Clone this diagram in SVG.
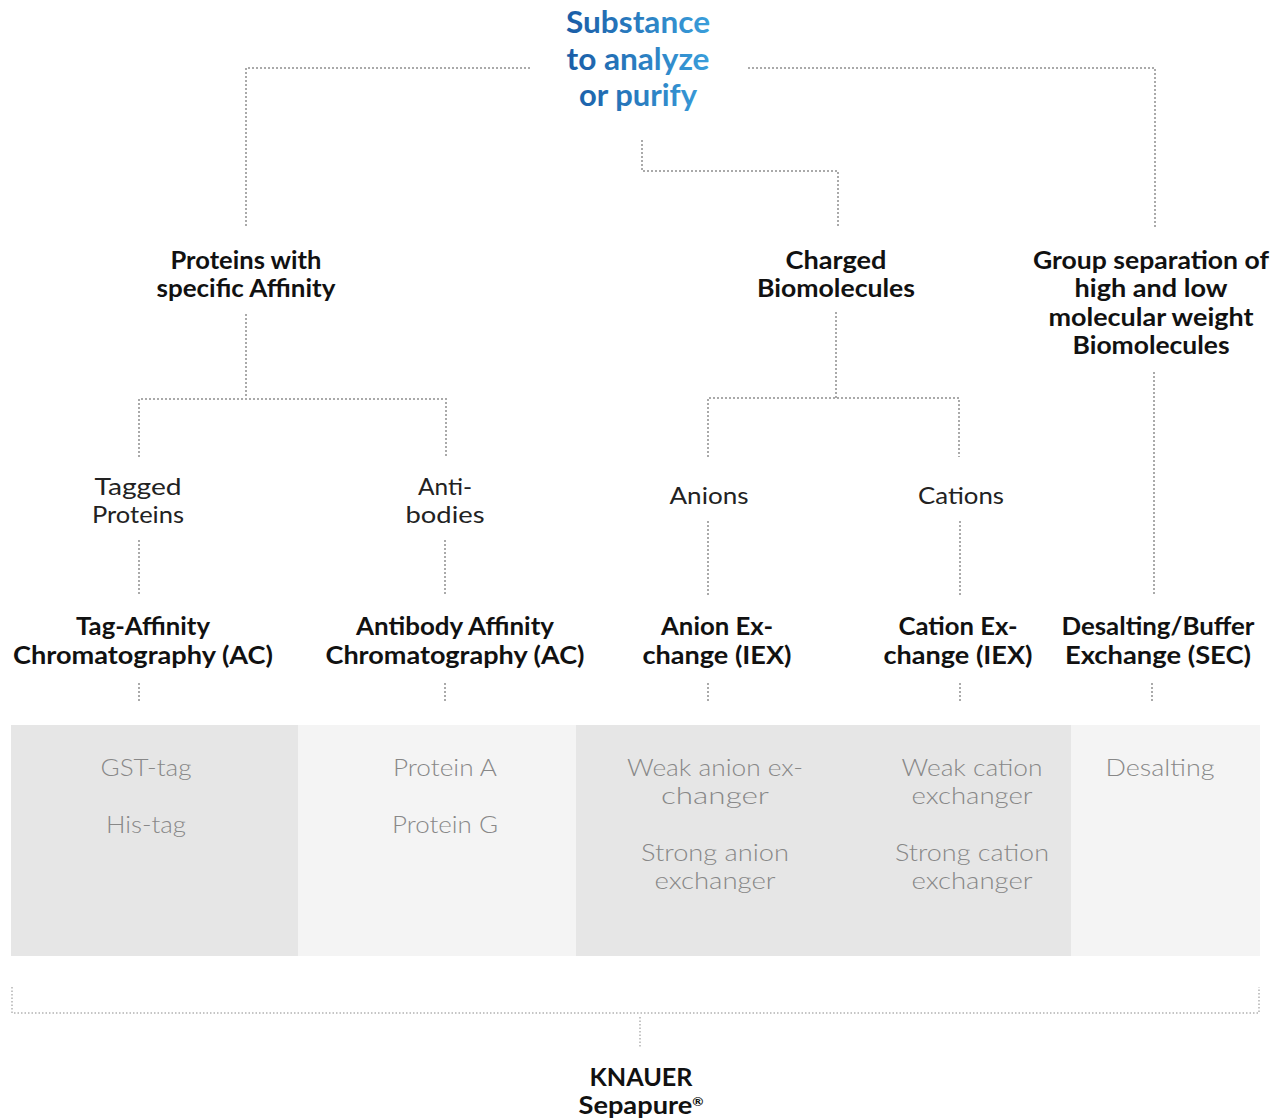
<svg xmlns="http://www.w3.org/2000/svg" width="1281" height="1120" viewBox="0 0 1281 1120">
<defs>
<linearGradient id="tg" gradientUnits="userSpaceOnUse" x1="566" y1="0" x2="710" y2="0">
<stop offset="0" stop-color="#1a5ca6"/>
<stop offset="1" stop-color="#3a9edb"/>
</linearGradient>
</defs>
<style>
text{font-family:Lato,"Noto Sans","Liberation Sans",sans-serif;text-anchor:middle}
.title{font-size:30px;font-weight:700;fill:url(#tg)}
.b{font-size:24px;font-weight:700;fill:#111}
.r{font-size:24px;font-weight:400;fill:#222}
.l{font-size:24px;font-weight:300;fill:#888888}
.dot{fill:none;stroke:#aaaaaa;stroke-width:2;stroke-dasharray:2 2}
.dotb{fill:none;stroke:#b3b3b3;stroke-width:1.5;stroke-dasharray:1.5 2}
.pd{fill:#e6e6e6}
.pl{fill:#f4f4f4}
</style>
<rect width="1281" height="1120" fill="#ffffff"/>

<g id="connectors">
<polyline class="dot" points="530,68 246,68 246,226"/>
<polyline class="dot" points="748,68 1155,68 1155,228"/>
<polyline class="dot" points="642,140 642,171 838,171 838,228"/>
<line class="dot" x1="246" y1="314" x2="246" y2="399"/>
<polyline class="dot" points="139,457 139,399 446,399 446,457"/>
<line class="dot" x1="836" y1="312" x2="836" y2="398"/>
<polyline class="dot" points="708,457 708,398 959,398 959,457"/>
<line class="dot" x1="1154" y1="372" x2="1154" y2="596"/>
<line class="dot" x1="139" y1="540" x2="139" y2="595"/>
<line class="dot" x1="445" y1="540" x2="445" y2="595"/>
<line class="dot" x1="708" y1="521" x2="708" y2="597"/>
<line class="dot" x1="960" y1="521" x2="960" y2="597"/>
<line class="dot" x1="139" y1="683" x2="139" y2="701"/>
<line class="dot" x1="445" y1="683" x2="445" y2="701"/>
<line class="dot" x1="708" y1="683" x2="708" y2="701"/>
<line class="dot" x1="960" y1="683" x2="960" y2="701"/>
<line class="dot" x1="1152" y1="683" x2="1152" y2="701"/>
<polyline class="dotb" points="12,987 12,1013 1259,1013 1259,987"/>
<line class="dotb" x1="640" y1="1017" x2="640" y2="1047"/>
</g>

<g id="panels">
<rect class="pd" x="11" y="725" width="287" height="231"/>
<rect class="pl" x="298" y="725" width="278" height="231"/>
<rect class="pd" x="576" y="725" width="495" height="231"/>
<rect class="pl" x="1071" y="725" width="189" height="231"/>
</g>

<g id="root">
<text class="title" x="638" y="33" textLength="144" lengthAdjust="spacingAndGlyphs">Substance</text>
<text class="title" x="638" y="70" textLength="143" lengthAdjust="spacingAndGlyphs">to analyze</text>
<text class="title" x="638" y="106" textLength="118" lengthAdjust="spacingAndGlyphs">or purify</text>
</g>

<g id="proteins-affinity">
<text class="b" x="246" y="269" textLength="151" lengthAdjust="spacingAndGlyphs">Proteins with</text>
<text class="b" x="246" y="297" textLength="179" lengthAdjust="spacingAndGlyphs">specific Affinity</text>
</g>
<g id="charged">
<text class="b" x="836" y="269" textLength="101" lengthAdjust="spacingAndGlyphs">Charged</text>
<text class="b" x="836" y="297" textLength="158" lengthAdjust="spacingAndGlyphs">Biomolecules</text>
</g>
<g id="group-separation">
<text class="b" x="1151" y="269" textLength="236" lengthAdjust="spacingAndGlyphs">Group separation of</text>
<text class="b" x="1151" y="297" textLength="153" lengthAdjust="spacingAndGlyphs">high and low</text>
<text class="b" x="1151" y="326" textLength="205" lengthAdjust="spacingAndGlyphs">molecular weight</text>
<text class="b" x="1151" y="354" textLength="157" lengthAdjust="spacingAndGlyphs">Biomolecules</text>
</g>

<g id="tagged">
<text class="r" x="138" y="495" textLength="87" lengthAdjust="spacingAndGlyphs">Tagged</text>
<text class="r" x="138" y="523" textLength="92" lengthAdjust="spacingAndGlyphs">Proteins</text>
</g>
<g id="antibodies">
<text class="r" x="445" y="495" textLength="54" lengthAdjust="spacingAndGlyphs">Anti-</text>
<text class="r" x="445" y="523" textLength="79" lengthAdjust="spacingAndGlyphs">bodies</text>
</g>
<g id="anions">
<text class="r" x="709" y="504" textLength="79" lengthAdjust="spacingAndGlyphs">Anions</text>
</g>
<g id="cations">
<text class="r" x="961" y="504" textLength="86" lengthAdjust="spacingAndGlyphs">Cations</text>
</g>

<g id="tag-ac">
<text class="b" x="143" y="635" textLength="134" lengthAdjust="spacingAndGlyphs">Tag-Affinity</text>
<text class="b" x="143" y="664" textLength="260" lengthAdjust="spacingAndGlyphs">Chromatography (AC)</text>
</g>
<g id="antibody-ac">
<text class="b" x="455" y="635" textLength="198" lengthAdjust="spacingAndGlyphs">Antibody Affinity</text>
<text class="b" x="455" y="664" textLength="259" lengthAdjust="spacingAndGlyphs">Chromatography (AC)</text>
</g>
<g id="anion-iex">
<text class="b" x="717" y="635" textLength="112" lengthAdjust="spacingAndGlyphs">Anion Ex-</text>
<text class="b" x="717" y="664" textLength="149" lengthAdjust="spacingAndGlyphs">change (IEX)</text>
</g>
<g id="cation-iex">
<text class="b" x="958" y="635" textLength="119" lengthAdjust="spacingAndGlyphs">Cation Ex-</text>
<text class="b" x="958" y="664" textLength="149" lengthAdjust="spacingAndGlyphs">change (IEX)</text>
</g>
<g id="sec">
<text class="b" x="1158" y="635" textLength="193" lengthAdjust="spacingAndGlyphs">Desalting/Buffer</text>
<text class="b" x="1158" y="664" textLength="186" lengthAdjust="spacingAndGlyphs">Exchange (SEC)</text>
</g>

<g id="tag-items">
<text class="l" x="146" y="776" textLength="91" lengthAdjust="spacingAndGlyphs">GST-tag</text>
<text class="l" x="146" y="833" textLength="80" lengthAdjust="spacingAndGlyphs">His-tag</text>
</g>
<g id="antibody-items">
<text class="l" x="445" y="776" textLength="104" lengthAdjust="spacingAndGlyphs">Protein A</text>
<text class="l" x="445" y="833" textLength="106" lengthAdjust="spacingAndGlyphs">Protein G</text>
</g>
<g id="anion-items">
<text class="l" x="715" y="776" textLength="176" lengthAdjust="spacingAndGlyphs">Weak anion ex-</text>
<text class="l" x="715" y="804" textLength="108" lengthAdjust="spacingAndGlyphs">changer</text>
<text class="l" x="715" y="861" textLength="148" lengthAdjust="spacingAndGlyphs">Strong anion</text>
<text class="l" x="715" y="889" textLength="121" lengthAdjust="spacingAndGlyphs">exchanger</text>
</g>
<g id="cation-items">
<text class="l" x="972" y="776" textLength="141" lengthAdjust="spacingAndGlyphs">Weak cation</text>
<text class="l" x="972" y="804" textLength="121" lengthAdjust="spacingAndGlyphs">exchanger</text>
<text class="l" x="972" y="861" textLength="154" lengthAdjust="spacingAndGlyphs">Strong cation</text>
<text class="l" x="972" y="889" textLength="121" lengthAdjust="spacingAndGlyphs">exchanger</text>
</g>
<g id="sec-items">
<text class="l" x="1160" y="776" textLength="109" lengthAdjust="spacingAndGlyphs">Desalting</text>
</g>

<g id="knauer">
<text class="b" x="641" y="1086" textLength="103" lengthAdjust="spacingAndGlyphs">KNAUER</text>
<text class="b" x="641" y="1114" textLength="125" lengthAdjust="spacingAndGlyphs"><tspan>Sepapure</tspan><tspan font-size="12" dy="-8">®</tspan></text>
</g>
</svg>
